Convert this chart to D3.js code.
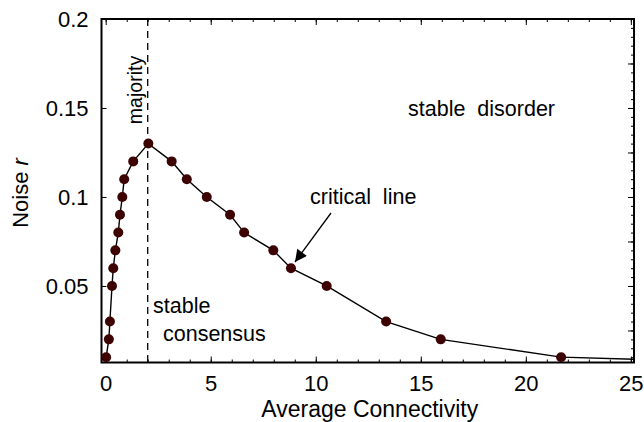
<!DOCTYPE html>
<html><head><meta charset="utf-8">
<script src="https://cdn.jsdelivr.net/npm/d3@7"></script>
<style>body{margin:0;background:#fff}svg{display:block}text{font-family:Arial,"Liberation Sans",sans-serif;fill:#000}</style>
</head><body>
<svg id="c" width="644" height="422"></svg>
<script>
const connectivity = [0.02, 0.15, 0.2, 0.3, 0.36, 0.46, 0.6, 0.68, 0.79, 0.88, 1.31, 2.03, 3.14, 3.86, 4.81, 5.92, 6.59, 7.98, 8.82, 10.52, 13.35, 15.95, 21.68, 26.0];
const noise = [0.01, 0.02, 0.03, 0.05, 0.06, 0.07, 0.08, 0.09, 0.10, 0.11, 0.12, 0.13, 0.12, 0.11, 0.10, 0.09, 0.08, 0.07, 0.06, 0.05, 0.03, 0.02, 0.01, 0.0085];
const xTickLabels = [0, 5, 10, 15, 20, 25];
const yTickLabels = [0.05, 0.1, 0.15, 0.2];
const majorityX = 2;

(function () {
const svg = d3.select("#c");
const L = 101.5, R = 634, T = 19, B = 362.5;
const x = d3.scaleLinear().domain([-0.2, 25.15]).range([L, R]);
const y = d3.scaleLinear().domain([0.007, 0.2]).range([B, T]);

const defs = svg.append("defs");
defs.append("clipPath").attr("id", "clip")
  .append("rect").attr("x", L).attr("y", T).attr("width", R - L).attr("height", B - T);

const minorX = d3.range(0, 26, 1);
svg.append("g").attr("transform", `translate(0,${B})`)
  .call(d3.axisBottom(x).tickValues(minorX).tickSize(-3).tickFormat(""));
svg.append("g").attr("transform", `translate(0,${B})`)
  .call(d3.axisBottom(x).tickValues(xTickLabels).tickSize(-6).tickPadding(13).tickFormat(d3.format("d")));
svg.append("g").attr("transform", `translate(0,${T})`)
  .call(d3.axisTop(x).tickValues(minorX).tickSize(-3).tickFormat(""));
svg.append("g").attr("transform", `translate(0,${T})`)
  .call(d3.axisTop(x).tickValues(xTickLabels).tickSize(-6).tickFormat(""));
svg.append("g").attr("transform", `translate(${L},0)`)
  .call(d3.axisLeft(y).tickValues(yTickLabels).tickSize(-5).tickPadding(13).tickFormat(d => String(d)));
const minorY = d3.range(0.01, 0.2001, 0.005);
svg.append("g").attr("transform", `translate(${R},0)`)
  .call(d3.axisRight(y).tickValues(minorY).tickSize(-3).tickFormat(""));
svg.append("g").attr("transform", `translate(${R},0)`)
  .call(d3.axisRight(y).tickValues([0.025, 0.05, 0.075, 0.1, 0.125, 0.15, 0.175, 0.2]).tickSize(-6).tickFormat(""));
svg.selectAll(".domain").remove();
svg.selectAll(".tick line").attr("stroke", "#000").attr("stroke-width", 1);
svg.selectAll(".tick text").style("font-size", "22px").style("font-family", "Arial, 'Liberation Sans', sans-serif").attr("fill", "#000");

svg.append("rect").attr("x", L).attr("y", T).attr("width", R - L).attr("height", B - T)
  .attr("fill", "none").attr("stroke", "#000").attr("stroke-width", 2);

svg.append("line").attr("x1", x(majorityX)).attr("x2", x(majorityX)).attr("y1", T).attr("y2", B)
  .attr("stroke", "#000").attr("stroke-width", 1.3).attr("stroke-dasharray", "7,5");

const pts = connectivity.map((c, i) => [c, noise[i]]);
const g = svg.append("g").attr("clip-path", "url(#clip)");
g.append("path").datum(pts)
  .attr("d", d3.line().x(d => x(d[0])).y(d => y(d[1])))
  .attr("fill", "none").attr("stroke", "#000").attr("stroke-width", 1.4);
g.selectAll("circle").data(pts).join("circle")
  .attr("cx", d => x(d[0])).attr("cy", d => y(d[1])).attr("r", 5)
  .attr("fill", "#3d0303");

svg.append("text").attr("x", (L + R) / 2 + 2).attr("y", 417).attr("text-anchor", "middle")
  .style("font-size", "23px").text("Average Connectivity");
const yl = svg.append("text").attr("transform", "translate(28,193) rotate(-90)").attr("text-anchor", "middle")
  .style("font-size", "22px");
yl.append("tspan").text("Noise ");
yl.append("tspan").style("font-style", "italic").text("r");

svg.append("text").attr("transform", `translate(${x(majorityX) - 6},90) rotate(-90)`).attr("text-anchor", "middle")
  .style("font-size", "19.5px").text("majority");
svg.append("text").attr("x", 408).attr("y", 116).style("font-size", "21.5px").attr("xml:space", "preserve").text("stable  disorder");
svg.append("text").attr("x", 310).attr("y", 204).style("font-size", "21.5px").attr("xml:space", "preserve").text("critical  line");
svg.append("text").attr("x", 153).attr("y", 313).style("font-size", "21.5px").text("stable");
svg.append("text").attr("x", 163).attr("y", 341).style("font-size", "21.5px").text("consensus");

defs.append("marker").attr("id", "ah").attr("viewBox", "0 0 10 10").attr("refX", 10).attr("refY", 5)
  .attr("markerWidth", 16).attr("markerHeight", 12).attr("markerUnits", "userSpaceOnUse").attr("orient", "auto")
  .append("path").attr("d", "M0,0 L10,5 L0,10 Z").attr("fill", "#000");
svg.append("line").attr("x1", 331).attr("y1", 213).attr("x2", 295).attr("y2", 262)
  .attr("stroke", "#000").attr("stroke-width", 1.3).attr("marker-end", "url(#ah)");
})();
</script>
</body></html>
